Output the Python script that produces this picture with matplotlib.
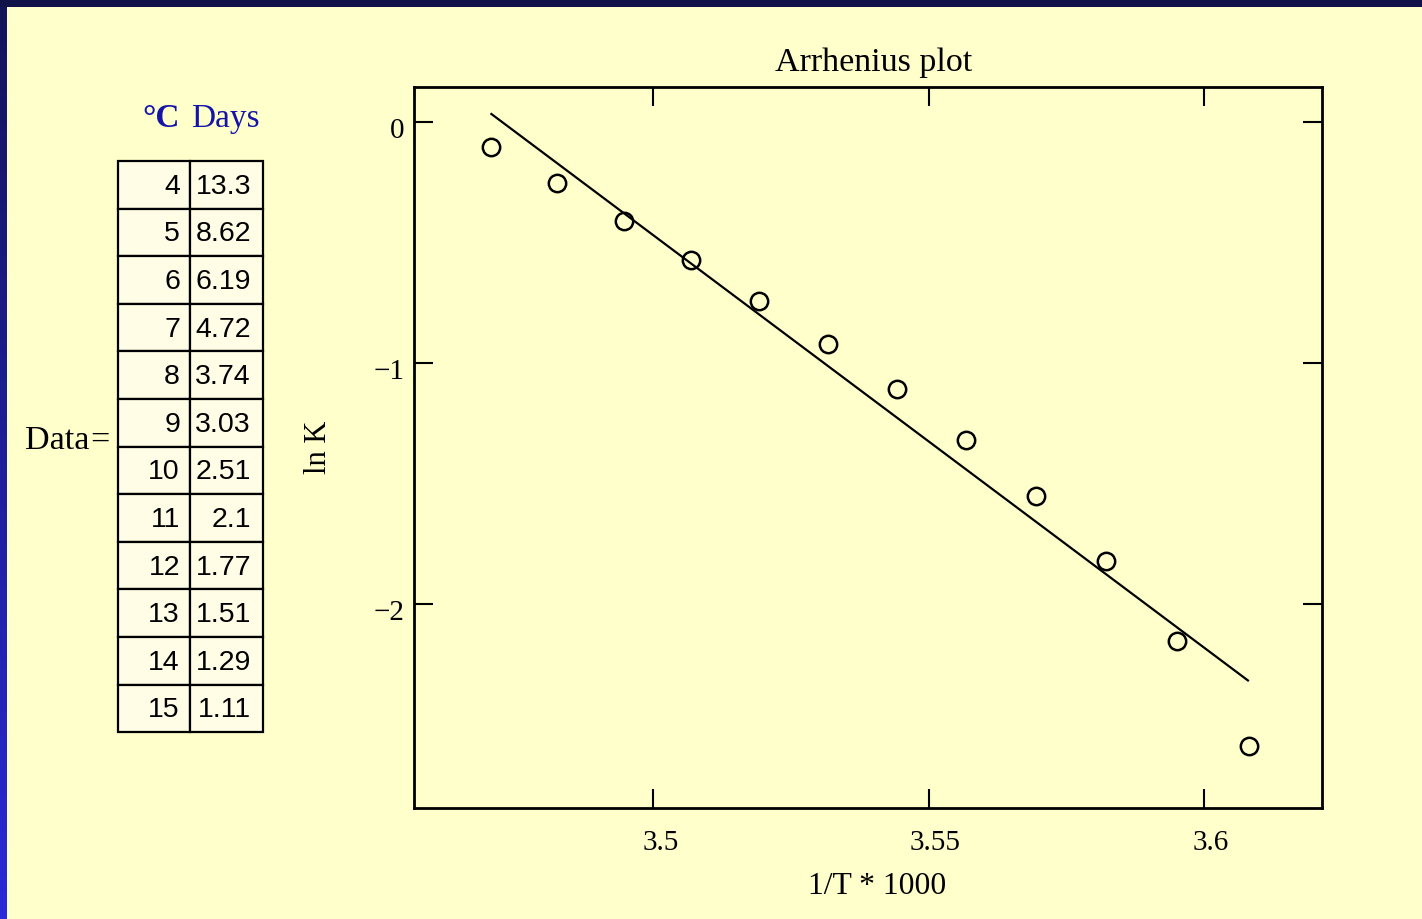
import numpy as np
import matplotlib
matplotlib.use("Agg")
import matplotlib.pyplot as plt
import matplotlib.patches as mp
from matplotlib.colors import LinearSegmentedColormap
from matplotlib.transforms import ScaledTranslation

# table data (temperature in deg C, development time in days)
temps_c = [4, 5, 6, 7, 8, 9, 10, 11, 12, 13, 14, 15]
days = [13.3, 8.62, 6.19, 4.72, 3.74, 3.03, 2.51, 2.1, 1.77, 1.51, 1.29, 1.11]

# fitted line, end points
fit_x = [3.4704, 3.6082]
fit_y = [0.036, -2.320]

x_ticks = [3.5, 3.55, 3.6]
x_tick_labels = ["3.5", "3.55", "3.6"]
y_ticks = [0, -1, -2]
y_tick_labels = ["0", "\u22121", "\u22122"]

W, H = 1422, 920
BG = "#ffffcc"
CELL = "#fffde6"
SERIF = "Liberation Serif"
SANS = "Liberation Sans"

inv_t = 1000.0 / (np.array(temps_c) + 273.15)
ln_k = np.log(1.0 / np.array(days))

fig = plt.figure(figsize=(W / 100, H / 100), dpi=100, facecolor=BG)


def fx(x):
    return x / W


def fy(y):
    return 1 - y / H


# -- dark blue frame on top and left --
fig.patches.append(mp.Rectangle((0, fy(8)), 1, 8 / H, transform=fig.transFigure,
                                facecolor="#12124a", edgecolor="none", zorder=0))
band = fig.add_axes([0, 0, fx(7), fy(8)])
grad = np.linspace(0, 1, 256).reshape(-1, 1)
cmap = LinearSegmentedColormap.from_list("band", ["#14145a", "#2a2ad8"])
band.imshow(grad, aspect="auto", cmap=cmap, extent=[0, 1, 0, 1], origin="upper")
band.axis("off")

# -- the data table on the left, drawn in pixel coordinates --
tab = fig.add_axes([0, 0, 1, 1], facecolor="none")
tab.set_xlim(0, W)
tab.set_ylim(H, 0)
tab.axis("off")

tab_left, tab_mid, tab_right = 118, 190, 263
tab_top, row_h = 162, 47.6
for i, (t, d) in enumerate(zip(temps_c, days)):
    y0 = tab_top + i * row_h
    for xa, xb in [(tab_left, tab_mid), (tab_mid, tab_right)]:
        tab.add_patch(mp.Rectangle((xa, y0), xb - xa, row_h, facecolor=CELL,
                                   edgecolor="black", linewidth=1.6))
    yc = y0 + row_h / 2 + 1
    tab.text(tab_mid - 10, yc, str(t), ha="right", va="center",
             family=SANS, fontsize=20.5)
    tab.text(tab_right - 12, yc, str(d), ha="right", va="center",
             family=SANS, fontsize=20.5)

tab.text(25, 449, "Data", ha="left", va="baseline", family=SERIF, fontsize=24.5)
tab.text(90, 449, "=", ha="left", va="baseline", family=SERIF, fontsize=24.5)
tab.text(142, 127, "\u00b0C", ha="left", va="baseline", family=SERIF,
         fontsize=24, fontweight="bold", color="#1414a8")
tab.text(191, 127, "Days", ha="left", va="baseline", family=SERIF,
         fontsize=24, color="#1414a8")

# -- Arrhenius plot --
ax = fig.add_axes([fx(414), fy(809), (1322 - 414) / W, (809 - 88) / H])
ax.set_facecolor(BG)
ax.plot(fit_x, fit_y, color="black", linewidth=1.6, solid_capstyle="butt")
ax.plot(inv_t, ln_k, linestyle="none", marker="o", markersize=12.5,
        markerfacecolor="none", markeredgecolor="black", markeredgewidth=1.8)

ax.set_xlim(3.4565, 3.6215)
ax.set_ylim(-2.8465, 0.1452)
ax.set_xticks(x_ticks)
ax.set_xticklabels(x_tick_labels)
ax.set_yticks(y_ticks)
ax.set_yticklabels(y_tick_labels)
ax.tick_params(direction="in", length=14, width=1.5, top=True, right=True,
               labelsize=21, colors="black")
ax.tick_params(axis="x", pad=15)
ax.tick_params(axis="y", pad=7)
for lab in ax.get_xticklabels() + ax.get_yticklabels():
    lab.set_family(SERIF)
for lab in ax.get_xticklabels():
    lab.set_transform(lab.get_transform() + ScaledTranslation(0.07, 0, fig.dpi_scale_trans))
for lab in ax.get_yticklabels():
    lab.set_transform(lab.get_transform() + ScaledTranslation(0, -0.05, fig.dpi_scale_trans))
for sp in ax.spines.values():
    sp.set_linewidth(2)

fig.text(fx(874), fy(63), "Arrhenius plot", ha="center", va="center",
         family=SERIF, fontsize=24.5)
fig.text(fx(877), fy(887), "1/T * 1000", ha="center", va="center",
         family=SERIF, fontsize=22.8)
fig.text(fx(318), fy(447), "ln K", ha="center", va="center", rotation=90,
         family=SERIF, fontsize=22)

fig.savefig("out.png", dpi=100, facecolor=BG)
